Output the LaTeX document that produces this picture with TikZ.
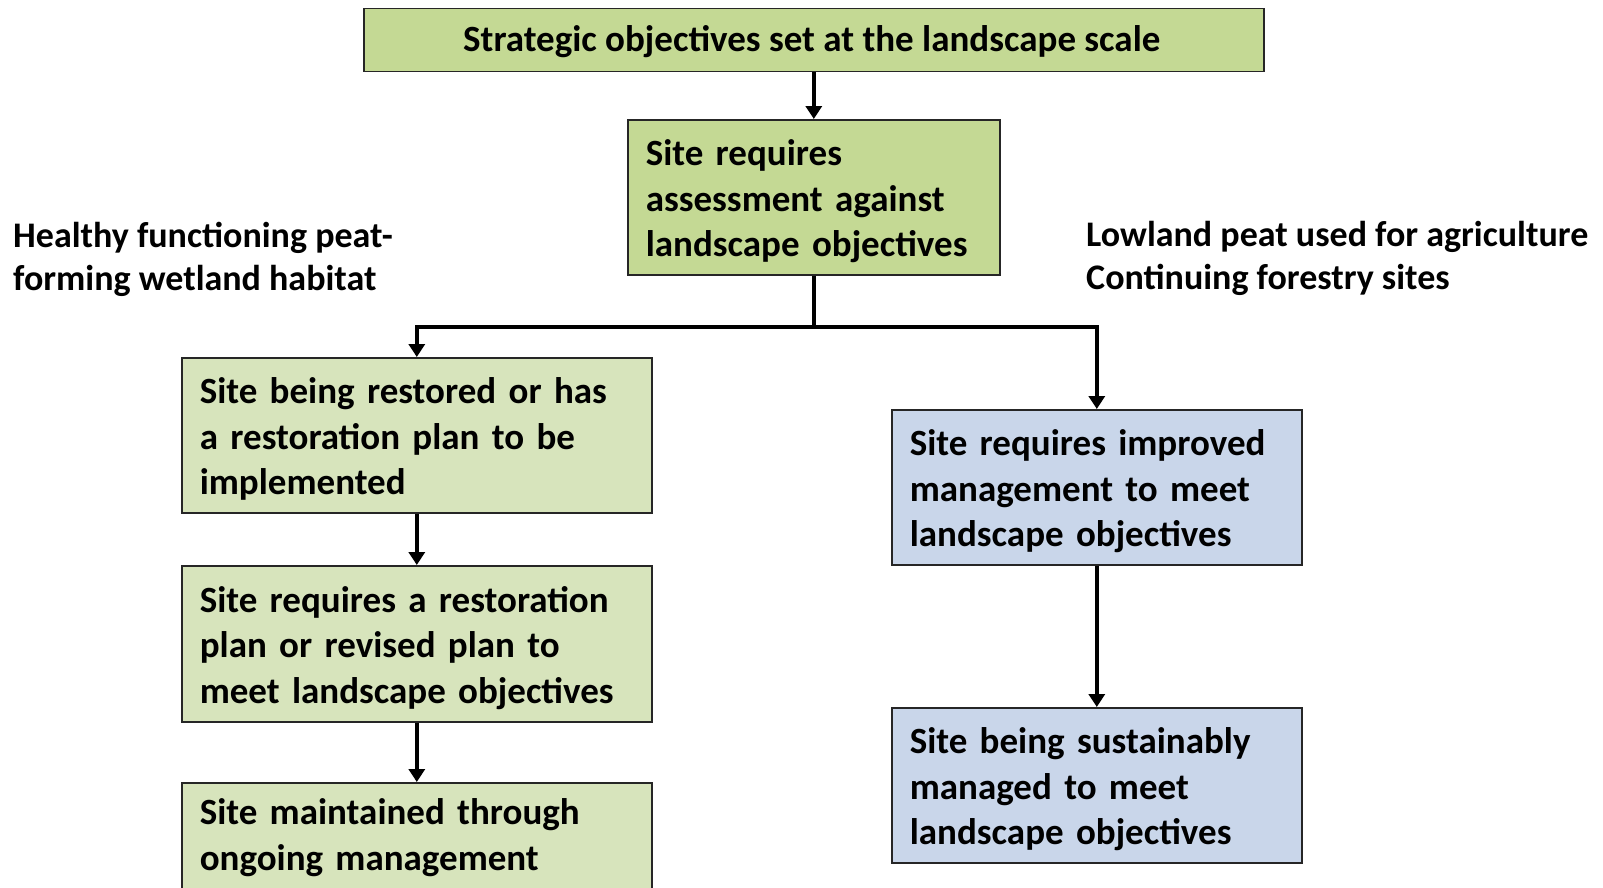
\documentclass[tikz,border=0pt]{standalone}
\usepackage{fontspec}
\setmainfont{Carlito}
\usetikzlibrary{arrows.meta}
\definecolor{topgreen}{RGB}{196,217,148}
\definecolor{ltgreen}{RGB}{215,228,188}
\definecolor{ltblue}{RGB}{201,214,234}
\tikzset{
  boxbase/.style={draw=black!85, line width=1.6pt, rectangle, inner xsep=18pt, inner ysep=0pt,
    font=\fontsize{37}{45.5}\selectfont\bfseries, align=left, anchor=north west,
    execute at begin node={\rule{0pt}{34pt}}},
  topbox/.style={boxbase, fill=topgreen},
  greenbox/.style={boxbase, fill=ltgreen},
  bluebox/.style={boxbase, fill=ltblue},
  lbl/.style={font=\fontsize{36}{43}\selectfont\bfseries, align=left, inner sep=0pt, anchor=north west},
  flow/.style={line width=4.5pt, -{Triangle[length=13pt,width=16pt]}}
}
\begin{document}
\begin{tikzpicture}[x=1pt,y=-1pt]
\useasboundingbox (0,0) rectangle (1603,887);
\clip (0,0) rectangle (1603,887);
\node[draw=black!85, line width=1.6pt, fill=topgreen, inner sep=0pt,
  font=\fontsize{37}{45.5}\selectfont\bfseries,
  minimum width=900pt, minimum height=63pt, anchor=north west] (top) at (363,7.5)
  {\smash{\raisebox{-11.5pt}{\hspace{-4pt}Strategic objectives set at the landscape scale}}};
\node[topbox, text width=336pt, minimum height=155pt] (assess) at (627,119)
  {Site requires\\assessment against\\landscape objectives};
\node[lbl] (healthy) at (13,222) {Healthy functioning peat-\\forming wetland habitat};
\node[lbl] (lowland) at (1086,221) {Lowland peat used for agriculture\\Continuing forestry sites};
\node[greenbox, text width=434pt, minimum height=155pt] (l1) at (181,357)
  {Site being restored or has\\a restoration plan to be\\implemented};
\node[greenbox, text width=434pt, minimum height=156pt] (l2) at (181,565)
  {Site requires a restoration\\plan or revised plan to\\meet landscape objectives};
\node[greenbox, text width=434pt, minimum height=155pt] (l3) at (181,782)
  {Site maintained through\\ongoing management\\\strut};
\node[bluebox, text width=374pt, minimum height=155pt] (r1) at (891,409)
  {Site requires improved\\management to meet\\landscape objectives};
\node[bluebox, text width=374pt, minimum height=155pt] (r2) at (891,707)
  {Site being sustainably\\managed to meet\\landscape objectives};
\coordinate (split) at (assess.south |- 0,327);
\draw[flow] (top.south -| assess.north) -- (assess.north);
\draw[line width=4.5pt] (assess.south) -- (split);
\draw[flow] (split) -| (l1.north);
\draw[flow] (split) -| (r1.north);
\draw[flow] (l1.south) -- (l2.north);
\draw[flow] (l2.south) -- (l3.north);
\draw[flow] (r1.south) -- (r2.north);
\end{tikzpicture}
\end{document}
